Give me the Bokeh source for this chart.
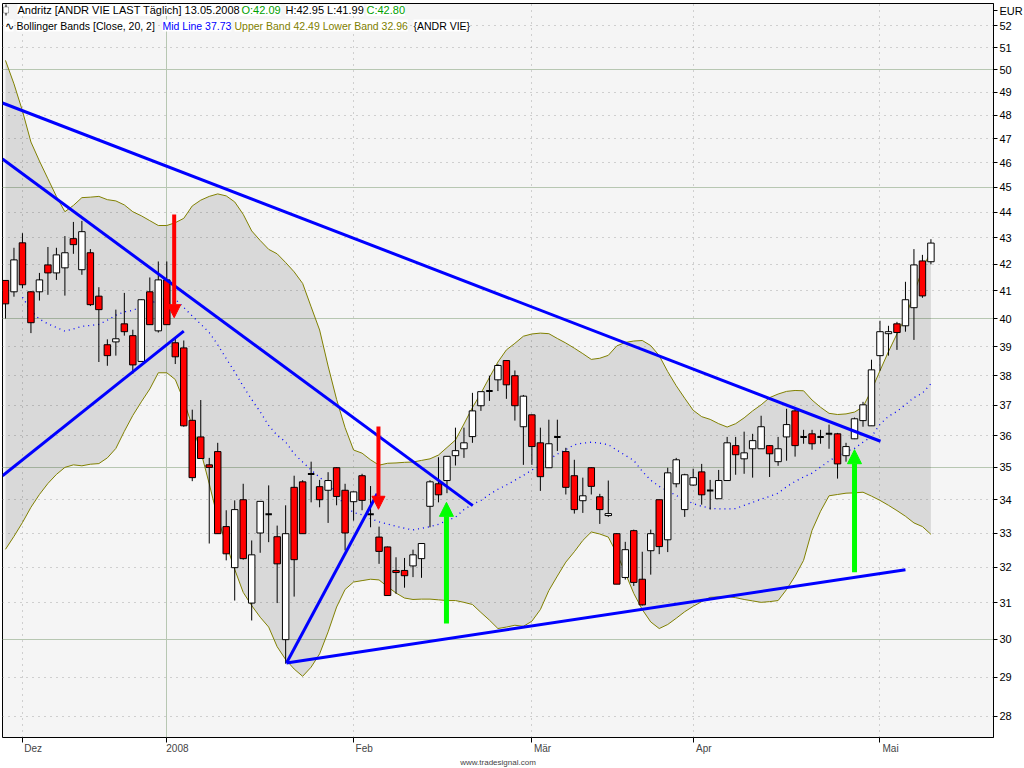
from bokeh.plotting import figure
from bokeh.models import (ColumnDataSource, FixedTicker, LinearAxis, Grid, Label,
                          Arrow, NormalHead, Range1d, NumeralTickFormatter, BoxAnnotation)
from bokeh.embed import file_html
from bokeh.resources import INLINE

# ---------------- data ----------------
opens = [41.39, 40.97, 42.81, 40.97, 40.97, 41.97, 41.67, 41.86, 42.97, 41.79,
         42.43, 40.81, 39.07, 39.17, 39.81, 39.39, 38.49, 40.97, 39.56, 41.41,
         39.14, 38.96, 36.51, 35.97, 35.08, 35.50, 33.19, 31.99, 34.00, 30.99,
         33.00, 33.56, 32.89, 29.99, 34.38, 34.55, 34.79, 34.40, 34.29, 34.99,
         34.29, 33.94, 34.74, 33.56, 32.88, 32.59, 31.91, 31.91, 32.04, 32.25,
         33.80, 34.49, 34.59, 35.37, 35.59, 35.98, 36.99, 37.48, 37.86, 38.52,
         38.00, 36.30, 36.69, 35.78, 34.99, 35.97, 35.50, 34.74, 33.97, 34.99,
         34.09, 33.52, 32.98, 31.71, 33.07, 31.66, 32.48, 34.00, 32.80, 34.49,
         33.70, 34.45, 34.86, 34.28, 34.03, 34.59, 35.69, 35.27, 35.59, 35.59,
         35.69, 35.18, 35.97, 36.82, 35.97, 36.07, 35.97, 36.07, 36.07, 35.37,
         35.91, 36.50, 36.33, 38.69, 39.46, 39.81, 39.74, 40.39, 42.12, 42.09]
highs = [41.40, 42.62, 43.18, 41.00, 41.67, 42.65, 42.62, 43.07, 43.62, 43.66,
         42.57, 41.14, 39.26, 40.32, 40.93, 39.60, 40.70, 41.50, 42.10, 42.10,
         39.28, 39.22, 36.86, 37.18, 35.30, 35.78, 33.68, 33.98, 34.49, 32.78,
         33.95, 34.44, 33.22, 33.83, 34.74, 34.60, 35.18, 34.61, 34.85, 35.00,
         34.49, 34.25, 34.80, 34.42, 33.19, 32.60, 32.29, 32.27, 32.51, 32.69,
         34.60, 35.32, 35.35, 36.27, 36.27, 37.42, 37.46, 38.00, 38.40, 38.52,
         38.18, 37.35, 36.70, 36.27, 36.53, 36.53, 35.62, 35.24, 34.68, 35.00,
         34.18, 34.59, 33.00, 32.74, 33.10, 32.45, 33.10, 34.00, 34.99, 35.30,
         34.80, 34.96, 35.11, 34.61, 34.92, 35.97, 35.97, 36.14, 36.07, 36.66,
         35.70, 35.97, 36.89, 36.89, 36.20, 36.20, 36.20, 36.37, 36.10, 35.78,
         36.60, 37.12, 38.55, 39.92, 39.74, 39.88, 41.34, 42.57, 42.35, 42.95]
lows = [40.00, 40.79, 41.10, 39.48, 40.65, 40.86, 41.41, 40.83, 42.39, 41.60,
        40.45, 38.47, 38.34, 38.69, 39.39, 38.07, 38.49, 39.78, 39.50, 39.78,
        38.40, 36.30, 34.57, 35.28, 32.69, 32.98, 32.20, 31.06, 32.22, 30.51,
        32.42, 32.73, 30.99, 29.35, 31.17, 32.98, 33.92, 33.77, 33.30, 33.83,
        32.49, 33.37, 33.68, 33.17, 32.10, 31.20, 31.25, 31.42, 31.72, 31.70,
        33.17, 33.92, 34.20, 35.06, 35.30, 35.78, 36.82, 37.15, 37.48, 37.22,
        36.50, 35.08, 35.08, 34.27, 34.99, 35.52, 34.16, 33.58, 33.60, 34.16,
        33.27, 33.48, 31.52, 31.65, 31.47, 30.92, 31.79, 32.38, 32.44, 34.38,
        33.48, 34.43, 33.85, 33.70, 34.03, 34.58, 34.77, 34.80, 34.68, 35.59,
        34.70, 35.05, 35.21, 35.34, 35.75, 35.56, 35.75, 35.59, 34.65, 35.18,
        35.90, 36.30, 36.33, 38.17, 38.69, 38.89, 39.53, 39.24, 40.75, 41.99]
closes = [40.53, 42.16, 41.23, 39.85, 41.41, 41.67, 42.35, 42.43, 42.74, 43.24,
          40.50, 40.32, 38.69, 39.28, 39.53, 38.37, 40.68, 39.78, 41.41, 39.78,
          38.65, 36.33, 34.68, 35.28, 35.00, 32.98, 32.39, 33.70, 32.25, 32.36,
          33.95, 33.56, 32.10, 32.98, 32.22, 32.98, 34.79, 34.00, 34.59, 34.10,
          33.00, 34.24, 33.98, 33.56, 32.46, 31.20, 31.85, 31.76, 32.36, 32.69,
          34.55, 34.15, 35.35, 35.53, 35.78, 36.82, 37.46, 37.48, 38.35, 37.69,
          36.99, 37.31, 35.66, 34.71, 35.75, 35.97, 34.38, 33.70, 34.12, 34.41,
          33.70, 33.58, 31.52, 32.51, 31.57, 30.94, 32.98, 32.60, 34.83, 35.24,
          34.77, 34.68, 34.15, 34.28, 34.59, 35.78, 35.40, 35.46, 35.85, 36.30,
          35.43, 35.59, 36.37, 35.69, 35.97, 35.75, 35.97, 36.07, 35.11, 35.66,
          36.56, 37.02, 38.20, 39.53, 39.53, 39.50, 40.68, 41.97, 40.82, 42.80]

upper_band = [50.42, 49.37, 48.19, 46.86, 46.07, 45.34, 44.63, 44.02, 44.27, 44.58,
              44.60, 44.63, 44.50, 44.45, 44.29, 44.02, 43.86, 43.67, 43.48, 43.48,
              43.59, 43.76, 44.25, 44.48, 44.63, 44.73, 44.65, 44.41, 43.92, 43.27,
              42.90, 42.56, 42.39, 42.06, 41.71, 41.28, 40.42, 39.59, 38.33, 37.20,
              36.27, 35.55, 35.45, 35.24, 35.07, 35.13, 35.14, 35.16, 35.17, 35.22,
              35.27, 35.39, 35.63, 35.87, 36.39, 36.93, 37.41, 37.94, 38.47, 38.89,
              39.12, 39.37, 39.45, 39.48, 39.46, 39.29, 39.13, 38.95, 38.76, 38.56,
              38.60, 38.70, 39.03, 39.15, 39.20, 39.22, 39.04, 38.69, 38.14, 37.66,
              37.24, 36.84, 36.63, 36.54, 36.40, 36.29, 36.40, 36.59, 36.82, 37.02,
              37.26, 37.38, 37.47, 37.50, 37.49, 37.18, 36.94, 36.74, 36.70, 36.72,
              36.78, 36.95, 37.51, 38.17, 38.83, 39.45, 40.04, 40.90, 41.82, 42.49]
lower_band = [32.52, 32.90, 33.31, 33.77, 34.16, 34.50, 34.78, 35.00, 35.08, 35.05,
              35.10, 35.12, 35.30, 35.60, 36.15, 36.67, 37.12, 37.55, 38.10, 38.10,
              37.87, 37.16, 36.32, 35.51, 34.49, 33.44, 32.67, 31.94, 31.29, 30.92,
              30.60, 30.33, 29.80, 29.46, 29.21, 29.02, 29.26, 29.61, 30.20, 30.88,
              31.37, 31.58, 31.62, 31.66, 31.64, 31.45, 31.27, 31.13, 31.09, 31.10,
              31.10, 31.08, 31.06, 31.06, 31.01, 30.95, 30.73, 30.52, 30.29, 30.33,
              30.38, 30.35, 30.49, 30.81, 31.34, 31.75, 32.15, 32.45, 32.78, 33.03,
              32.97, 32.88, 32.40, 31.84, 31.26, 30.81, 30.47, 30.29, 30.40, 30.57,
              30.75, 30.90, 31.03, 31.15, 31.16, 31.17, 31.14, 31.09, 31.05, 31.01,
              31.03, 31.06, 31.37, 31.75, 32.20, 33.08, 33.65, 34.12, 34.16, 34.20,
              34.21, 34.23, 34.11, 33.98, 33.83, 33.67, 33.50, 33.30, 33.19, 32.96]
mid_start = 2
mid_line = [40.77, 40.29, 39.98, 39.81, 39.68, 39.55, 39.63, 39.72,
            39.75, 39.79, 39.94, 40.12, 40.24, 40.29, 40.44, 40.55, 40.65, 40.73,
            40.70, 40.40, 40.09, 39.80, 39.50, 39.07, 38.59, 38.13, 37.64, 37.20,
            36.79, 36.34, 36.02, 35.81, 35.43, 35.17, 34.92, 34.69, 34.48, 34.16,
            33.81, 33.61, 33.54, 33.43, 33.33, 33.27, 33.20, 33.14, 33.09, 33.14,
            33.19, 33.26, 33.37, 33.47, 33.70, 33.86, 33.98, 34.16, 34.32, 34.45,
            34.60, 34.75, 34.92, 35.05, 35.25, 35.42, 35.56, 35.72, 35.77, 35.80,
            35.77, 35.72, 35.55, 35.38, 35.22, 34.88, 34.60, 34.41, 34.27, 34.13,
            34.00, 33.88, 33.80, 33.74, 33.72, 33.72, 33.73, 33.83, 33.92, 34.02,
            34.10, 34.20, 34.40, 34.56, 34.70, 34.82, 35.01, 35.20, 35.37, 35.50,
            35.60, 35.80, 35.98, 36.38, 36.64, 36.80, 37.03, 37.26, 37.41, 37.73]

# month start bars (trading-day index) and their labels
month_idx = [2, 19, 41, 62, 81, 103]
month_labels = ["Dez", "2008", "Feb", "Mär", "Apr", "Mai"]
year_idx = [19]
price_ticks = list(range(28, 53))
major_price_ticks = [30, 35, 40, 45, 50]
currency = "EUR"
currency_pos = 52.72   # where the unit caption sits on the price scale

# hand-drawn trend lines (bar index, price)
trend_x0 = [-0.35, -0.35, -0.35, 33.1, 33.1]
trend_y0 = [48.53, 46.15, 34.74, 29.37, 29.37]
trend_x1 = [103.06, 55.04, 21.0, 43.78, 106.0]
trend_y1 = [35.83, 33.82, 39.55, 34.18, 31.93]

# signal arrows (bar index, start price, tip price)
sell_x = [19.87, 43.93]
sell_from = [43.91, 36.31]
sell_to = [40.03, 33.71]
buy_x = [51.94, 100.0]
buy_from = [30.43, 31.86]
buy_to = [33.92, 35.56]

# ---------------- figure ----------------
FONT = "Liberation Sans"
idx = list(range(len(closes)))
FW, FH = 991, 734

p = figure(frame_width=FW, frame_height=FH,
           x_range=Range1d(-0.35, 116.37), y_range=Range1d(27.47, 53.06),
           y_axis_type="log", y_axis_location="right", x_axis_location=None,
           toolbar_location=None, output_backend="svg",
           min_border_left=2, min_border_top=3, min_border_right=30, min_border_bottom=0,
           background_fill_color="#f5f5f5", border_fill_color="white")
p.outline_line_color = "black"
p.xgrid.grid_line_color = None
p.ygrid.grid_line_color = None

# grids
p.add_layout(Grid(dimension=1, ticker=FixedTicker(ticks=[t for t in price_ticks if t not in major_price_ticks]),
                  grid_line_color="#a8a8a8", grid_line_dash="1 5", grid_line_width=1))
p.add_layout(Grid(dimension=1, ticker=FixedTicker(ticks=major_price_ticks),
                  grid_line_color="#b7c7b2", grid_line_width=1))
p.add_layout(Grid(dimension=0, ticker=FixedTicker(ticks=[m for m in month_idx if m not in year_idx]),
                  grid_line_color="#a8a8a8", grid_line_dash="1 5", grid_line_width=1))
p.add_layout(Grid(dimension=0, ticker=FixedTicker(ticks=year_idx),
                  grid_line_color="#b7c7b2", grid_line_width=1))

# bollinger bands
p.varea(x=idx, y1=lower_band, y2=upper_band, fill_color="black", fill_alpha=0.115)
p.line(idx, upper_band, line_color="#808000", line_width=1)
p.line(idx, lower_band, line_color="#808000", line_width=1)
p.line(idx[mid_start:], mid_line, line_color="#0000ff", line_width=1.3, line_dash="1 4")

# candles
src = ColumnDataSource(dict(x=idx, l=lows, h=highs))
p.segment(x0="x", y0="l", x1="x", y1="h", source=src, line_color="black", line_width=1)

def sub(cond):
    d = {"x": [], "top": [], "bot": []}
    for i in idx:
        if cond(opens[i], closes[i]):
            d["x"].append(i)
            d["top"].append(max(opens[i], closes[i]))
            d["bot"].append(min(opens[i], closes[i]))
    return ColumnDataSource(d)

up = sub(lambda o, c: c > o)
down = sub(lambda o, c: c < o)
flat = sub(lambda o, c: c == o)
p.vbar(x="x", top="top", bottom="bot", width=0.76, source=up,
       fill_color="white", line_color="black", line_width=1)
p.vbar(x="x", top="top", bottom="bot", width=0.76, source=down,
       fill_color="#ff0000", line_color="black", line_width=1)
p.vbar(x="x", top="top", bottom="bot", width=0.76, source=flat,
       fill_color="black", line_color="black", line_width=2)

# trend lines
p.segment(x0=trend_x0, y0=trend_y0, x1=trend_x1, y1=trend_y1,
          line_color="#0000ff", line_width=3)

# arrows
for x, y0, y1 in zip(sell_x, sell_from, sell_to):
    p.add_layout(Arrow(end=NormalHead(size=13, fill_color="#ff0000", line_color="#ff0000"),
                       x_start=x, y_start=y0, x_end=x, y_end=y1,
                       line_color="#ff0000", line_width=4))
for x, y0, y1 in zip(buy_x, buy_from, buy_to):
    p.add_layout(Arrow(end=NormalHead(size=14, fill_color="#00ff00", line_color="#00ff00"),
                       x_start=x, y_start=y0, x_end=x, y_end=y1,
                       line_color="#00ff00", line_width=5))

# right price axis (with the currency caption at its top)
ya = p.yaxis[0]
ya.ticker = FixedTicker(ticks=price_ticks + [currency_pos])
ya.formatter = NumeralTickFormatter(format="0")
ya.major_label_overrides = {currency_pos: currency}
ya.minor_tick_line_color = None
ya.major_tick_in = 0
ya.major_tick_out = 4
ya.major_label_standoff = 2
ya.axis_line_color = "black"
ya.major_label_text_font = FONT
ya.major_label_text_font_size = "11px"
ya.major_label_text_color = "black"

# bottom axes: tick marks, then left-aligned month labels, then footer
tick_axis = LinearAxis(ticker=FixedTicker(ticks=month_idx), major_tick_out=5, major_tick_in=0,
                       minor_tick_line_color=None, axis_line_color=None,
                       major_label_text_font_size="1px", major_label_text_alpha=0,
                       major_label_standoff=0)
label_shift = 1.25
label_pos = [m + label_shift for m in month_idx]
label_axis = LinearAxis(ticker=FixedTicker(ticks=label_pos),
                        major_label_overrides={pos: lab for pos, lab in zip(label_pos, month_labels)},
                        major_tick_out=0, major_tick_in=0, minor_tick_line_color=None,
                        axis_line_color=None, major_label_standoff=0,
                        major_label_text_font=FONT, major_label_text_font_size="10px",
                        axis_label="www.tradesignal.com", axis_label_text_font=FONT,
                        axis_label_text_font_size="8px", axis_label_text_font_style="normal",
                        axis_label_standoff=1)
p.add_layout(tick_axis, "below")
p.add_layout(label_axis, "below")

# header texts (x: px from the frame's left edge, y: px up from its bottom edge)
def head(x, y, text, color, size):
    p.add_layout(Label(x=x, y=y, x_units="screen", y_units="screen", text=text,
                       text_font=FONT, text_font_size=size, text_color=color,
                       text_baseline="top", text_align="left",
                       background_fill_color="white"))

line1 = FH - 0.5
line2 = FH - 16
head(15, line1, "Andritz [ANDR VIE LAST Täglich] 13.05.2008 - ", "black", "11px")
head(239, line1, "O:42.09", "#00a000", "11px")
head(283, line1, "H:42.95 L:41.99", "black", "11px")
head(364, line1, "C:42.80", "#00a000", "11px")
head(2, line2, "∿", "black", "11px")
head(14, line2, "Bollinger Bands [Close, 20, 2]", "black", "10.5px")
head(160, line2, "Mid Line 37.73", "#0000ff", "10.5px")
head(232, line2, "Upper Band 42.49 Lower Band 32.96", "#808000", "10.5px")
head(411, line2, "{ANDR VIE}", "black", "10.5px")

# small candle icon in front of the instrument name
p.add_layout(BoxAnnotation(left=3, right=4, top=FH - 1, bottom=FH - 12,
                           left_units="screen", right_units="screen",
                           top_units="screen", bottom_units="screen",
                           fill_color="black", fill_alpha=1, line_color=None))
p.add_layout(BoxAnnotation(left=1, right=6, top=FH - 3.5, bottom=FH - 9.5,
                           left_units="screen", right_units="screen",
                           top_units="screen", bottom_units="screen",
                           fill_color="white", fill_alpha=1, line_color="black", line_width=1))

open("out.html", "w").write(file_html(p, INLINE))
